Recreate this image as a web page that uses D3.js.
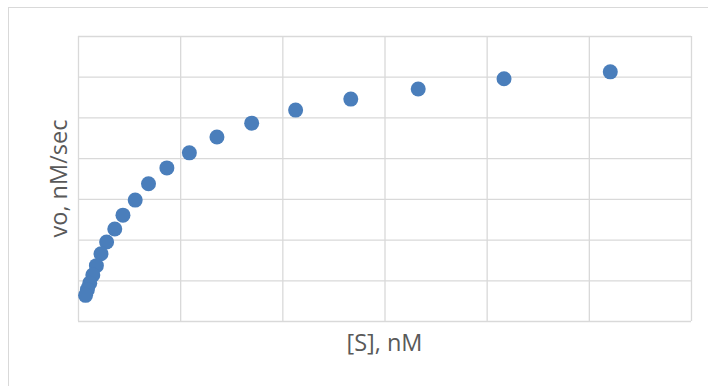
<!DOCTYPE html>
<html>
<head>
<meta charset="utf-8">
<script src="https://cdn.jsdelivr.net/npm/d3@7"></script>
<style>
  body { margin: 0; background: #fff; }
  text { font-family: "Open Sans", sans-serif; fill: #595959; }
</style>
</head>
<body>
<div id="chart"></div>
<script>
// substrate concentration [S], nM
const sValues = [52.1, 41.7, 33.3, 26.7, 21.3, 17.0, 13.6, 10.9, 8.7, 6.9,
                 5.6, 4.4, 3.6, 2.8, 2.25, 1.8, 1.45, 1.15, 0.92, 0.74];
// initial velocity vo, nM/sec
const voValues = [6.12, 5.95, 5.70, 5.45, 5.18, 4.86, 4.52, 4.13, 3.76, 3.37,
                  2.97, 2.60, 2.26, 1.94, 1.65, 1.36, 1.13, 0.93, 0.77, 0.63];
const xTicks = [0, 10, 20, 30, 40, 50, 60];
const yTicks = [0, 1, 2, 3, 4, 5, 6, 7];

const width = 708;
const height = 386;
const margin = { top: 36, right: 17, bottom: 65, left: 78 };
const innerW = width - margin.left - margin.right;
const innerH = height - margin.top - margin.bottom;

const svg = d3.select("#chart")
  .append("svg")
  .attr("width", width)
  .attr("height", height);

// chart frame (runs off the right and bottom edges)
svg.append("rect")
  .attr("x", 8.5)
  .attr("y", 7.5)
  .attr("width", 800)
  .attr("height", 500)
  .attr("fill", "none")
  .attr("stroke", "#d9d9d9");

const g = svg.append("g")
  .attr("transform", `translate(${margin.left},${margin.top})`);

const x = d3.scaleLinear().domain([0, 60]).range([0, innerW]);
const y = d3.scaleLinear().domain([0, 7]).range([innerH, 0]);

// gridlines, no tick labels
g.append("g")
  .attr("class", "grid")
  .attr("transform", `translate(0,${innerH})`)
  .call(d3.axisBottom(x).tickValues(xTicks).tickSize(-innerH).tickFormat(""));

g.append("g")
  .attr("class", "grid")
  .call(d3.axisLeft(y).tickValues(yTicks).tickSize(-innerW).tickFormat(""));

g.selectAll(".grid .domain").remove();
g.selectAll(".grid line")
  .attr("stroke", "#d9d9d9")
  .attr("stroke-width", 1.3);

// points
const data = sValues.map((s, i) => ({ s, v: voValues[i] }));
g.selectAll("circle.pt")
  .data(data)
  .enter()
  .append("circle")
  .attr("class", "pt")
  .attr("cx", d => x(d.s))
  .attr("cy", d => y(d.v))
  .attr("r", 7.5)
  .attr("fill", "#4a7ebb");

// axis titles
svg.append("text")
  .attr("x", margin.left + innerW / 2)
  .attr("y", 351)
  .attr("text-anchor", "middle")
  .style("font-size", "23.5px")
  .text("[S], nM");

svg.append("text")
  .attr("transform", `translate(67,${margin.top + innerH / 2}) rotate(-90)`)
  .attr("text-anchor", "middle")
  .style("font-size", "23.5px")
  .text("vo, nM/sec");
</script>
</body>
</html>
